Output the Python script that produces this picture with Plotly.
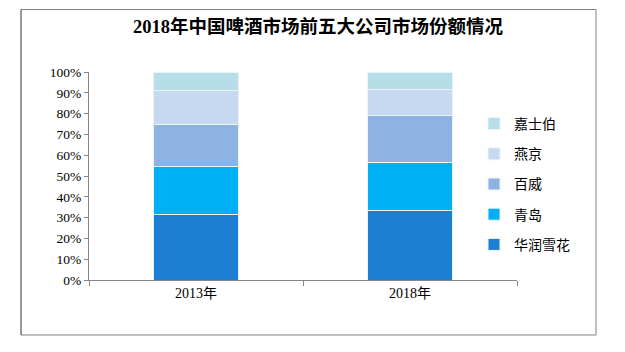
import plotly.graph_objects as go

years = ["2013年", "2018年"]
companies = ["华润雪花", "青岛", "百威", "燕京", "嘉士伯"]
share_huarun = [31.6, 33.5]
share_qingdao = [23.2, 22.9]
share_baiwei = [20.2, 22.9]
share_yanjing = [16.2, 12.4]
share_jiashibo = [8.8, 8.3]
colors = ["#1C7FD4", "#00B0F2", "#8DB3E2", "#C6D9F1", "#B7DDE8"]

series = [share_huarun, share_qingdao, share_baiwei, share_yanjing, share_jiashibo]

W, H = 625, 352
L, R, T, B = 89, 517, 72, 280  # plot area in pixels
pw, ph = R - L, B - T

def px_x(x):
    return (x - L) / pw

def px_y(y):
    return (B - y) / ph

fig = go.Figure()
n = len(companies)
for i, (name, vals, c) in enumerate(zip(companies, series, colors)):
    fig.add_trace(go.Bar(
        x=years, y=vals, name=name, legendgroup=name,
        legendrank=n - i,
        marker=dict(color=c, line=dict(color="#EAF4FA", width=1)),
        width=0.4,
    ))

font_main = "Liberation Serif, Noto Sans CJK SC, sans-serif"

fig.update_layout(
    width=W, height=H,
    margin=dict(l=L, r=W - R, t=T, b=H - B),
    paper_bgcolor="white", plot_bgcolor="white",
    barmode="stack",
    showlegend=True,
    title=dict(
        text="<b>2018年中国啤酒市场前五大公司市场份额情况</b>",
        x=318 / W, xref="container", xanchor="center",
        y=1 - 27 / H, yref="container", yanchor="middle",
        font=dict(family=font_main, size=18.5, color="#000000"),
    ),
    legend=dict(
        traceorder="grouped",
        x=px_x(474), xanchor="left",
        y=px_y(108), yanchor="top",
        font=dict(family=font_main, size=14, color="#000000"),
        tracegroupgap=9,
        bgcolor="rgba(0,0,0,0)",
    ),
    xaxis=dict(
        showline=True, linecolor="#868686", linewidth=1,
        ticks="outside", tickson="boundaries", ticklen=5, tickcolor="#868686",
        tickfont=dict(family=font_main, size=14, color="#000000"),
        showgrid=False, zeroline=False,
    ),
    yaxis=dict(
        range=[0, 100], dtick=10, ticksuffix="%",
        showline=True, linecolor="#868686", linewidth=1,
        ticks="outside", ticklen=4, tickcolor="#868686",
        tickfont=dict(family=font_main, size=13.5, color="#000000"),
        showgrid=False, zeroline=False,
    ),
    shapes=[
        dict(type="line", xref="paper", yref="paper",
             x0=px_x(21), x1=px_x(596), y0=px_y(9.5), y1=px_y(9.5),
             line=dict(color="#808080", width=1)),
        dict(type="line", xref="paper", yref="paper",
             x0=px_x(596), x1=px_x(596), y0=px_y(9.5), y1=px_y(335),
             line=dict(color="#808080", width=1)),
        dict(type="line", xref="paper", yref="paper",
             x0=px_x(21), x1=px_x(596), y0=px_y(335), y1=px_y(335),
             line=dict(color="#808080", width=1)),
        dict(type="line", xref="paper", yref="paper",
             x0=px_x(21), x1=px_x(21), y0=px_y(9.5), y1=px_y(335),
             line=dict(color="#333333", width=1)),
    ],
)

fig.write_html("out.html")
